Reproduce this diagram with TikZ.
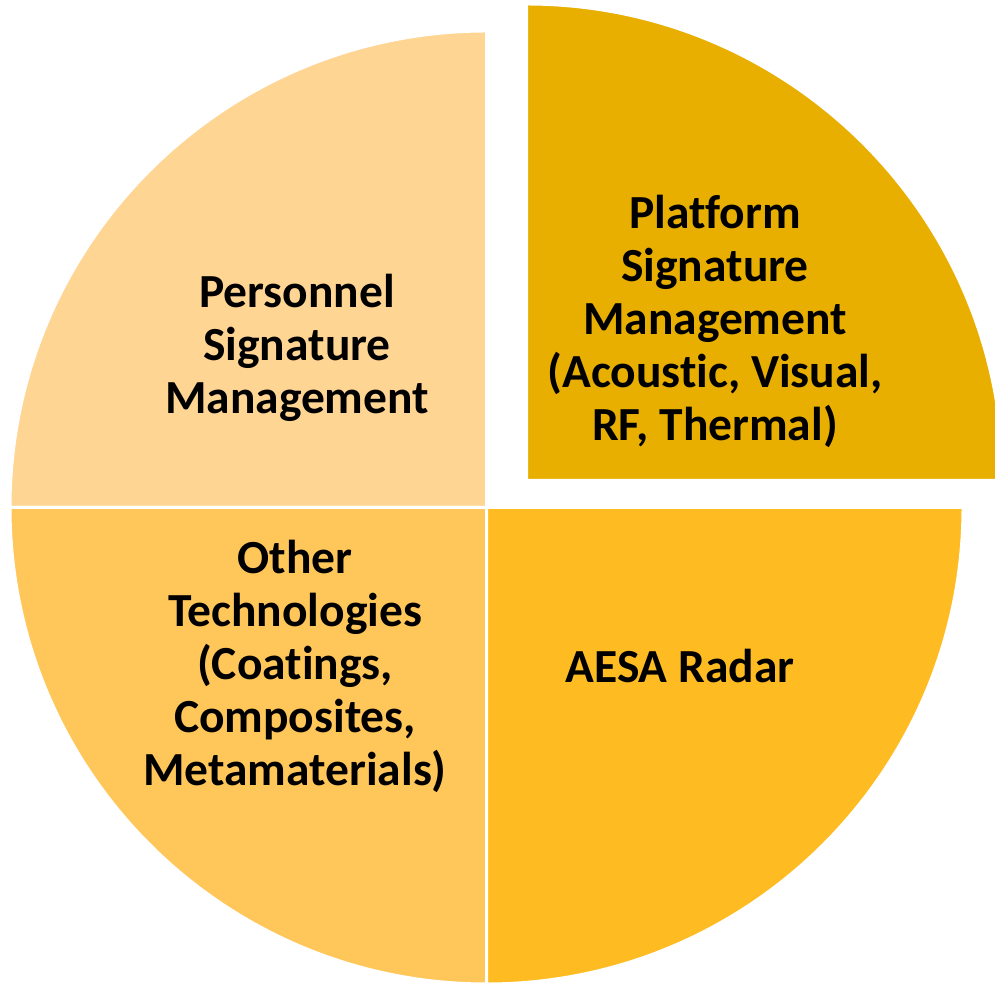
\documentclass[tikz,border=0pt]{standalone}
\usepackage{fontspec}
\setmainfont{Carlito}[Ligatures=NoCommon]
\definecolor{qtl}{HTML}{FFD594}
\definecolor{qbl}{HTML}{FFC65A}
\definecolor{qbr}{HTML}{FFBC22}
\definecolor{qtr}{HTML}{E8AF00}
\begin{document}
\begin{tikzpicture}[x=1pt,y=1pt,
  wedge/.style={draw=white,line width=3pt,line join=miter},
  lbl/.style={font=\fontsize{47.5}{53}\selectfont\bfseries, align=center, text=black, inner sep=0pt}]
\useasboundingbox (0,0) rectangle (995,982);
\clip (0,0) rectangle (995,982);
\coordinate (C) at (486.5,474.5);
\coordinate (E) at (526.5,501.5);
\fill[qtl,wedge] (C) -- ++(0,476.5) arc[start angle=90,end angle=180,radius=476.5] -- cycle;
\fill[qbl,wedge] (C) -- ++(-476.5,0) arc[start angle=180,end angle=270,radius=476.5] -- cycle;
\fill[qbr,wedge] (C) -- ++(0,-476.5) arc[start angle=270,end angle=360,radius=476.5] -- cycle;
\fill[qtr,wedge] (E) -- ++(476.5,0) arc[start angle=0,end angle=90,radius=476.5] -- cycle;
\node[lbl] (pers) at (297,634) {Personnel\\Signature\\Management};
\node[lbl] (plat) at (715,661) {Platform\\Signature\\Management\\(Acoustic, Visual,\\RF, Thermal)};
\node[lbl] (other) at (295,316) {Other\\Technologies\\(Coatings,\\Composites,\\Metamaterials)};
\node[lbl] (aesa) at (680,316) {AESA Radar};
\end{tikzpicture}
\end{document}
